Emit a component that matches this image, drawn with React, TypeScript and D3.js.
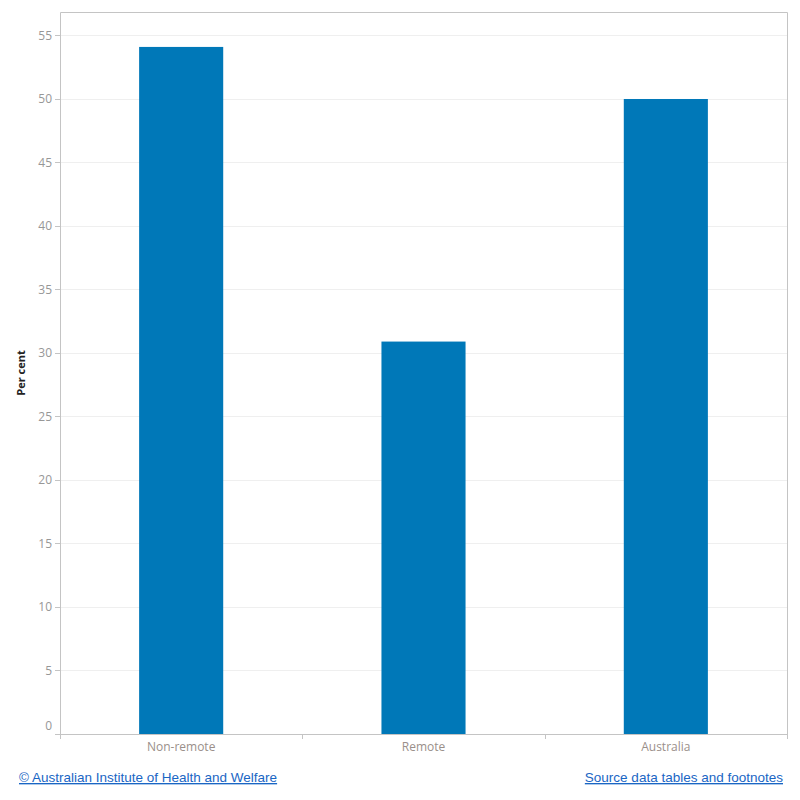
import React, { useEffect, useRef } from 'react';
import * as d3 from 'd3';

const categories = ['Non-remote', 'Remote', 'Australia'];
const values = [54.1, 30.9, 50.0];
const yTicks = [0, 5, 10, 15, 20, 25, 30, 35, 40, 45, 50, 55];
const yLabel = 'Per cent';
const footerLeft = '© Australian Institute of Health and Welfare';
const footerRight = 'Source data tables and footnotes';

const App: React.FC = () => {
  const svgRef = useRef<SVGSVGElement>(null);

  useEffect(() => {
    if (!svgRef.current) return;
    const svg = d3.select(svgRef.current);
    svg.selectAll('*').remove();

    const width = 800;
    const height = 800;
    const margin = { top: 12, right: 13, bottom: 66, left: 60 };
    const font = '"Open Sans", "Liberation Sans", Arial, sans-serif';

    const x = d3.scaleBand<string>()
      .domain(categories)
      .range([margin.left, width - margin.right]);

    const y = d3.scaleLinear()
      .domain([0, 56.85])
      .range([height - margin.bottom, margin.top]);

    const baseY = y(0);

    // Gridlines
    svg.append('g')
      .selectAll('line')
      .data(yTicks.filter(t => t > 0))
      .enter()
      .append('line')
      .attr('x1', margin.left)
      .attr('x2', width - margin.right)
      .attr('y1', d => Math.round(y(d)) + 0.5)
      .attr('y2', d => Math.round(y(d)) + 0.5)
      .attr('stroke', '#efefef')
      .attr('stroke-width', 1);

    // Bars
    const barW = x.bandwidth() * 0.347;
    svg.append('g')
      .selectAll('rect')
      .data(categories)
      .enter()
      .append('rect')
      .attr('x', (d) => (x(d) as number) + x.bandwidth() / 2 - barW / 2)
      .attr('y', (_, i) => y(values[i]))
      .attr('width', barW)
      .attr('height', (_, i) => baseY - y(values[i]))
      .attr('fill', '#0078b8');

    // Frame
    const frame = svg.append('g').attr('stroke', '#c4c4c4').attr('fill', 'none');
    frame.append('path')
      .attr('d', `M${margin.left + 0.5},${baseY}V${margin.top + 0.5}H${width - margin.right + 0.5}V${baseY}`);
    frame.append('line')
      .attr('x1', margin.left).attr('x2', width - margin.right + 1)
      .attr('y1', Math.round(baseY) + 0.5).attr('y2', Math.round(baseY) + 0.5);

    // Y ticks and labels
    const yAxis = svg.append('g');
    yAxis.selectAll('line')
      .data(yTicks)
      .enter()
      .append('line')
      .attr('x1', margin.left - 5)
      .attr('x2', margin.left)
      .attr('y1', d => Math.round(y(d)) + 0.5)
      .attr('y2', d => Math.round(y(d)) + 0.5)
      .attr('stroke', '#c4c4c4');
    yAxis.selectAll('text')
      .data(yTicks)
      .enter()
      .append('text')
      .attr('x', margin.left - 8)
      .attr('y', d => (d === 0 ? y(d) - 8 : y(d)))
      .attr('dy', '0.35em')
      .attr('text-anchor', 'end')
      .style('font-family', font)
      .style('font-size', '12px')
      .style('fill', '#979797')
      .text(d => d);

    // X ticks at band boundaries
    const bounds = categories.map(c => x(c) as number).concat([width - margin.right]);
    svg.append('g')
      .selectAll('line')
      .data(bounds)
      .enter()
      .append('line')
      .attr('x1', d => Math.round(d) + 0.5)
      .attr('x2', d => Math.round(d) + 0.5)
      .attr('y1', baseY)
      .attr('y2', baseY + 5)
      .attr('stroke', '#c4c4c4');

    svg.append('g')
      .selectAll('text')
      .data(categories)
      .enter()
      .append('text')
      .attr('x', d => (x(d) as number) + x.bandwidth() / 2)
      .attr('y', baseY + 17)
      .attr('text-anchor', 'middle')
      .style('font-family', font)
      .style('font-size', '12px')
      .style('fill', '#9a8f8a')
      .text(d => d);

    // Y axis title
    svg.append('text')
      .attr('transform', `translate(25, ${(margin.top + baseY) / 2}) rotate(-90)`)
      .attr('text-anchor', 'middle')
      .style('font-family', font)
      .style('font-size', '11px')
      .style('font-weight', 'bold')
      .style('fill', '#222')
      .text(yLabel);

    // Footer links
    svg.append('text')
      .attr('x', 19)
      .attr('y', 782)
      .style('font-family', '"Liberation Sans", Arial, sans-serif')
      .style('font-size', '13.5px')
      .style('fill', '#1a66c4')
      .style('text-decoration', 'underline')
      .text(footerLeft);

    svg.append('text')
      .attr('x', 783)
      .attr('y', 782)
      .attr('text-anchor', 'end')
      .style('font-family', '"Liberation Sans", Arial, sans-serif')
      .style('font-size', '13.5px')
      .style('fill', '#1a66c4')
      .style('text-decoration', 'underline')
      .text(footerRight);
  }, []);

  return (
    <svg
      ref={svgRef}
      width={800}
      height={800}
      style={{ position: 'absolute', top: 0, left: 0, background: '#fff' }}
    />
  );
};

export default App;
